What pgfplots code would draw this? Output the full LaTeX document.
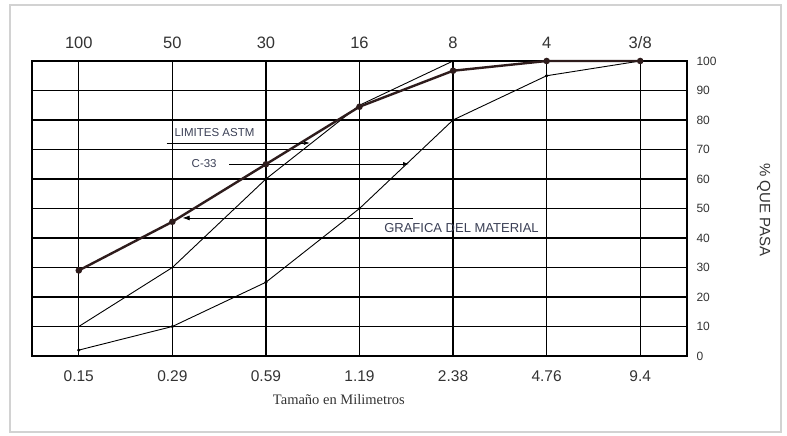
\documentclass[border=0pt]{standalone}
\usepackage{fontspec}
\setmainfont{Liberation Serif}
\setsansfont{Liberation Sans}
\usepackage{pgfplots}
\pgfplotsset{compat=1.18}
\usetikzlibrary{arrows.meta}
\definecolor{txt}{HTML}{333333}
\definecolor{ann}{HTML}{3A3F55}
\definecolor{matc}{HTML}{2E1C1C}
\begin{document}
\begin{tikzpicture}[x=1pt,y=1pt]
\path[use as bounding box] (0,0) rectangle (787,436);
\draw[gray!35, line width=1.5pt] (10,4) rectangle (781,431);
\begin{axis}[at={(32pt,80pt)}, anchor=south west, scale only axis,
  width=655pt, height=295pt,
  xmin=-0.5, xmax=6.5, ymin=0, ymax=100,
  xtick={0,...,6}, xticklabels={0.15,0.29,0.59,1.19,2.38,4.76,9.4},
  ytick={0,10,...,100}, yticklabel pos=right,
  grid=major, major grid style={black, line width=1.4pt},
  axis line style={black, line width=1.6pt},
  major tick length=0pt,
  /pgf/number format/assume math mode=true,
  xticklabel style={font=\sffamily\fontsize{15.5}{15.5}\selectfont, text=txt, yshift=-11pt},
  yticklabel style={font=\sffamily\fontsize{12}{12}\selectfont, text=txt, xshift=6pt},
  clip=false]
\addplot[black, line width=0.9pt] coordinates {(0,10)(1,30)(2,60)(3,85)(4,100)(5,100)(6,100)};
\addplot[black, line width=0.9pt, mark=*, mark size=1.1pt] coordinates {(0,2)(1,10)(2,25)(3,50)(4,80)(5,95)(6,100)};
\addplot[matc, line width=2.4pt, mark=*, mark size=2pt] coordinates {(0,29)(1,45.5)(2,65)(3,84.5)(4,96.7)(5,100)(6,100)};
% annotations
\draw[black, line width=0.7pt, -{Latex[length=6pt,width=4pt]}] (axis cs:0.94,72.2) -- (axis cs:2.47,72.2);
\node[font=\sffamily\fontsize{11.5}{12}\selectfont, text=ann] at (axis cs:1.45,75.8) {LIMITES ASTM};
\node[font=\sffamily\fontsize{11.5}{12}\selectfont, text=ann] at (axis cs:1.34,65.1) {C-33};
\draw[black, line width=0.7pt, -{Latex[length=6pt,width=4pt]}] (axis cs:1.61,65.1) -- (axis cs:3.53,65.1);
\draw[black, line width=0.7pt, -{Latex[length=7pt,width=5pt]}] (axis cs:3.57,46.8) -- (axis cs:1.11,46.8);
\node[font=\sffamily\fontsize{13}{13}\selectfont, text=ann] at (axis cs:4.09,43.5) {GRAFICA DEL MATERIAL};
\node[font=\rmfamily\fontsize{14.5}{15}\selectfont, text=txt] at (axis cs:2.78,-14.9) {Tamaño en Milimetros};
\node[font=\sffamily\fontsize{15}{15}\selectfont, text=txt, rotate=-90] at (axis cs:7.32,49.5) {\% QUE PASA};
\end{axis}
\begin{axis}[at={(32pt,80pt)}, anchor=south west, scale only axis,
  width=655pt, height=295pt,
  xmin=-0.5, xmax=6.5, ymin=0, ymax=100,
  xtick={0,...,6}, xticklabels={100,50,30,16,8,4,3/8},
  xticklabel pos=upper, ytick=\empty,
  axis line style={draw=none}, major tick length=0pt,
  /pgf/number format/assume math mode=true,
  xticklabel style={font=\sffamily\fontsize{16.5}{16.5}\selectfont, text=txt, yshift=9pt}]
\end{axis}
\end{tikzpicture}
\end{document}
